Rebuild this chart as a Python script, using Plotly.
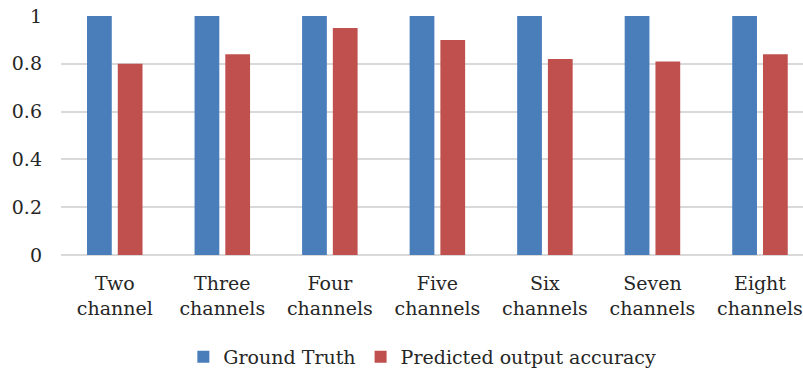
import plotly.graph_objects as go

categories = ["Two<br>channel", "Three<br>channels", "Four<br>channels", "Five<br>channels",
              "Six<br>channels", "Seven<br>channels", "Eight<br>channels"]
ground_truth = [1, 1, 1, 1, 1, 1, 1]
predicted = [0.80, 0.84, 0.95, 0.90, 0.82, 0.81, 0.84]
y_ticks = [0, 0.2, 0.4, 0.6, 0.8, 1]
y_tick_labels = ["0", "0.2", "0.4", "0.6", "0.8", "1"]

font_family = "DejaVu Serif, Liberation Serif, serif"

fig = go.Figure()
fig.add_trace(go.Bar(x=categories, y=ground_truth, name="Ground Truth",
                     marker=dict(color="#4A7EBB", line=dict(width=0))))
fig.add_trace(go.Bar(x=categories, y=predicted, name="Predicted output accuracy",
                     marker=dict(color="#C0504D", line=dict(width=0))))

fig.update_layout(
    width=803, height=370,
    margin=dict(l=61, r=0, t=16, b=115, autoexpand=False),
    paper_bgcolor="white", plot_bgcolor="white",
    barmode="group", bargap=0.428, bargroupgap=0.195,
    font=dict(family=font_family, size=19, color="#262626"),
    showlegend=True,
    legend=dict(orientation="h", x=0.487, xanchor="center",
                yref="container", y=13 / 370, yanchor="middle",
                font=dict(size=19), tracegroupgap=0, itemwidth=30),
    xaxis=dict(range=[-0.5, 6.4], showgrid=False, showline=False, ticks="",
               tickfont=dict(size=19), ticklabelstandoff=15),
    yaxis=dict(range=[0, 1], tickvals=y_ticks, ticktext=y_tick_labels,
               showgrid=True, gridcolor="#D9D9D9", gridwidth=1.5,
               zeroline=True, zerolinecolor="#D9D9D9", zerolinewidth=1.5,
               showline=False, ticks="", ticklabelstandoff=18, tickfont=dict(size=19)),
)

fig.write_html("out.html", config={"displayModeBar": False})

# remove the browser's default body margin so the figure sits at the page origin
with open("out.html", "r", encoding="utf-8") as f:
    html = f.read()
html = html.replace("<head>", "<head><style>html,body{margin:0;padding:0;overflow:hidden;}</style>", 1)
with open("out.html", "w", encoding="utf-8") as f:
    f.write(html)
